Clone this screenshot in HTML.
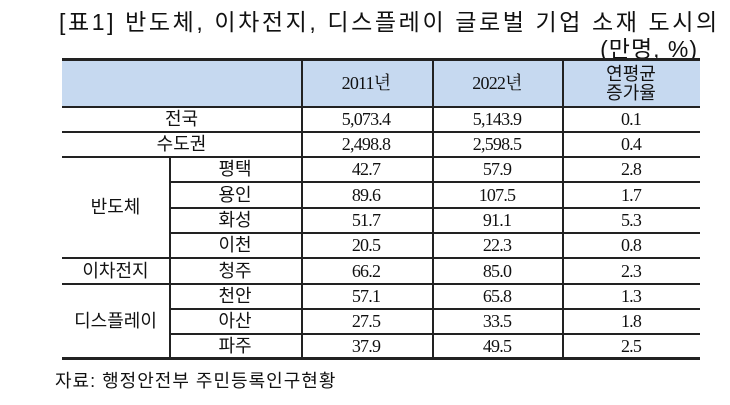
<!DOCTYPE html>
<html><head><meta charset="utf-8"><style>
body{margin:0;width:730px;height:405px;background:#fff;position:relative;overflow:hidden;font-family:"Liberation Sans","Noto Sans CJK KR",sans-serif;color:#111}
.a{position:absolute}
.c{position:absolute;display:flex;align-items:center;justify-content:center;font-size:18px;line-height:19px;text-align:center}
.n{font-family:"Liberation Serif","Noto Serif CJK SC",serif;font-size:18px;letter-spacing:-0.8px}
.h{position:absolute;left:62px;width:638px;height:1.5px;background:#222}
.v{position:absolute;width:1.5px;background:#222}
</style></head><body>
<div class="a" style="left:59px;top:3px;font-size:23px;white-space:nowrap;letter-spacing:2.6px">[표1] 반도체, 이차전지, 디스플레이 글로벌 기업 소재 도시의 인구 추이</div>
<div class="a" style="right:32px;top:30px;font-size:23px;letter-spacing:1px">(만명, %)</div>
<div class="a" style="left:62px;top:60px;width:638px;height:47px;background:#c6d9f0"></div>
<div id="t"></div>
<div class="a" style="left:55px;top:367px;font-size:18px;letter-spacing:1px">자료: 행정안전부 주민등록인구현황</div>
<script>
const rowLabels=["전국","수도권","평택","용인","화성","이천","청주","천안","아산","파주"];
const values2011=["5,073.4","2,498.8","42.7","89.6","51.7","20.5","66.2","57.1","27.5","37.9"];
const values2022=["5,143.9","2,598.5","57.9","107.5","91.1","22.3","85.0","65.8","33.5","49.5"];
const growth=["0.1","0.4","2.8","1.7","5.3","0.8","2.3","1.3","1.8","2.5"];
const groups=[["반도체",2,4],["이차전지",6,1],["디스플레이",7,3]];
const t=document.getElementById('t');
const X=[62,169,301,432,562,700];
const Y=[107,132,157,182,208,233,258,284,309,334,358];
function cell(x,y,w,h,txt,cls,name){const d=document.createElement('div');d.className='c '+(cls||'');


d.style.left=x+'px';d.style.top=y+'px';d.style.width=w+'px';d.style.height=h+'px';d.innerHTML=txt;t.appendChild(d);}
function line(cls,s){const d=document.createElement('div');d.className=cls;


Object.assign(d.style,s);t.appendChild(d);}
cell(X[2],60,130,47,'2011년','n','header-2011');
cell(X[3],60,130,47,'2022년','n','header-2022');
cell(X[4],60,138,47,'연평균<br>증가율','','header-growth');
rowLabels.forEach((l,i)=>{const y=Y[i],h=Y[i+1]-Y[i];
 if(i<2)cell(X[0],y,X[2]-X[0],h,l,'','row-label');else cell(X[1],y,X[2]-X[1],h,l,'','city-label');
 cell(X[2],y,130,h,values2011[i],'n','value-2011');
 cell(X[3],y,130,h,values2022[i],'n','value-2022');
 cell(X[4],y,138,h,growth[i],'n','value-growth');
});
groups.forEach(g=>{cell(X[0],Y[g[1]],X[1]-X[0],Y[g[1]+g[2]]-Y[g[1]],g[0],'','group-label');});
line('h',{top:'58px',height:'3px'});
line('h',{top:'106px'});
[1,2,3,4,5,6,7,8,9].forEach(i=>{
 let left=62;
 if([3,4,5,8,9].includes(i))left=169;
 line('h',{top:(Y[i]-1)+'px',left:left+'px',width:(700-left)+'px'});
});
line('h',{top:'357px',height:'3px'});
[2,3,4].forEach(k=>line('v',{left:X[k]+'px',top:'60px',height:'298px'}));
line('v',{left:'169px',top:Y[2]+'px',height:(358-Y[2])+'px'});
</script>
</body></html>
